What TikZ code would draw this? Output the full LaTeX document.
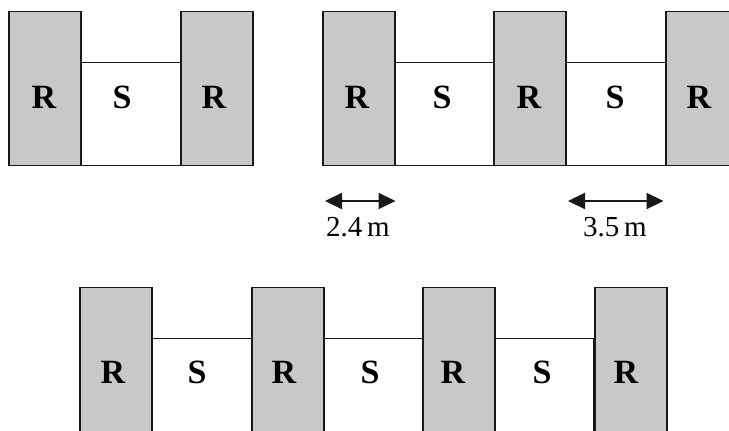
\documentclass[tikz,border=0pt]{standalone}
\usepackage{fontspec}
\setmainfont{Liberation Serif}
\usetikzlibrary{arrows.meta}
\definecolor{wallgray}{RGB}{199,200,202}
\tikzstyle{rbox}=[rectangle,draw=black!90,fill=wallgray,line width=1.5pt,minimum width=72pt,minimum height=154pt,inner sep=0pt,anchor=south west]
\tikzstyle{sbox}=[rectangle,draw=black!90,fill=white,line width=1.5pt,minimum width=100pt,minimum height=103pt,inner sep=0pt,anchor=south west]
\tikzstyle{tag}=[font=\fontsize{34}{36}\selectfont\bfseries,inner sep=0pt]
\tikzstyle{dimarrow}=[draw=black!90,line width=2.2pt,{Triangle[length=17pt,width=16pt]}-{Triangle[length=17pt,width=16pt]}]
\tikzstyle{dimtext}=[font=\fontsize{29}{31}\selectfont,inner sep=0pt]
\begin{document}
\begin{tikzpicture}[x=1pt,y=-1pt]
    \useasboundingbox (0,0) rectangle (729,431);
    \clip (0,0) rectangle (729,431);

    % S blocks first, R blocks on top
    \foreach \pos/ \name in {{(80,166)/s1},{(393,166)/s2},{(565,166)/s3},{(151,442)/s4},{(322,442)/s5},{(493,442)/s6}}
        \node[sbox] (\name) at \pos {};
    \foreach \pos/ \name in {{(8,166)/r1},{(180,166)/r2},{(322,166)/r3},{(493,166)/r4},{(665,166)/r5},{(79,442)/r6},{(251,442)/r7},{(422,442)/r8},{(594,442)/r9}}
        \node[rbox] (\name) at \pos {};

    % letters
    \foreach \pos/ \name/ \txt in {{(44,97)/tr1/R},{(122,97)/ts1/S},{(214,97)/tr2/R},{(357,97)/tr3/R},{(442,97)/ts2/S},{(529,97)/tr4/R},{(615,97)/ts3/S},{(699,97)/tr5/R},
                                   {(113,372)/tr6/R},{(197,372)/ts4/S},{(284,372)/tr7/R},{(370,372)/ts5/S},{(453,372)/tr8/R},{(542,372)/ts6/S},{(626,372)/tr9/R}}
        \node[tag] (\name) at \pos {\txt};

    % widths
    \coordinate (a1) at ([xshift=3pt,yshift=-35pt]r3.south west);
    \coordinate (b1) at ([yshift=-35pt]r3.south east);
    \coordinate (a2) at ([xshift=3pt,yshift=-35pt]s3.south west);
    \coordinate (b2) at ([xshift=-3pt,yshift=-35pt]s3.south east);
    \path[dimarrow] (a1) -- (b1);
    \path[dimarrow] (a2) -- (b2);
    \node[dimtext] (w1) at (358,227) {2.4\,m};
    \node[dimtext] (w2) at (615,227) {3.5\,m};
\end{tikzpicture}
\end{document}
